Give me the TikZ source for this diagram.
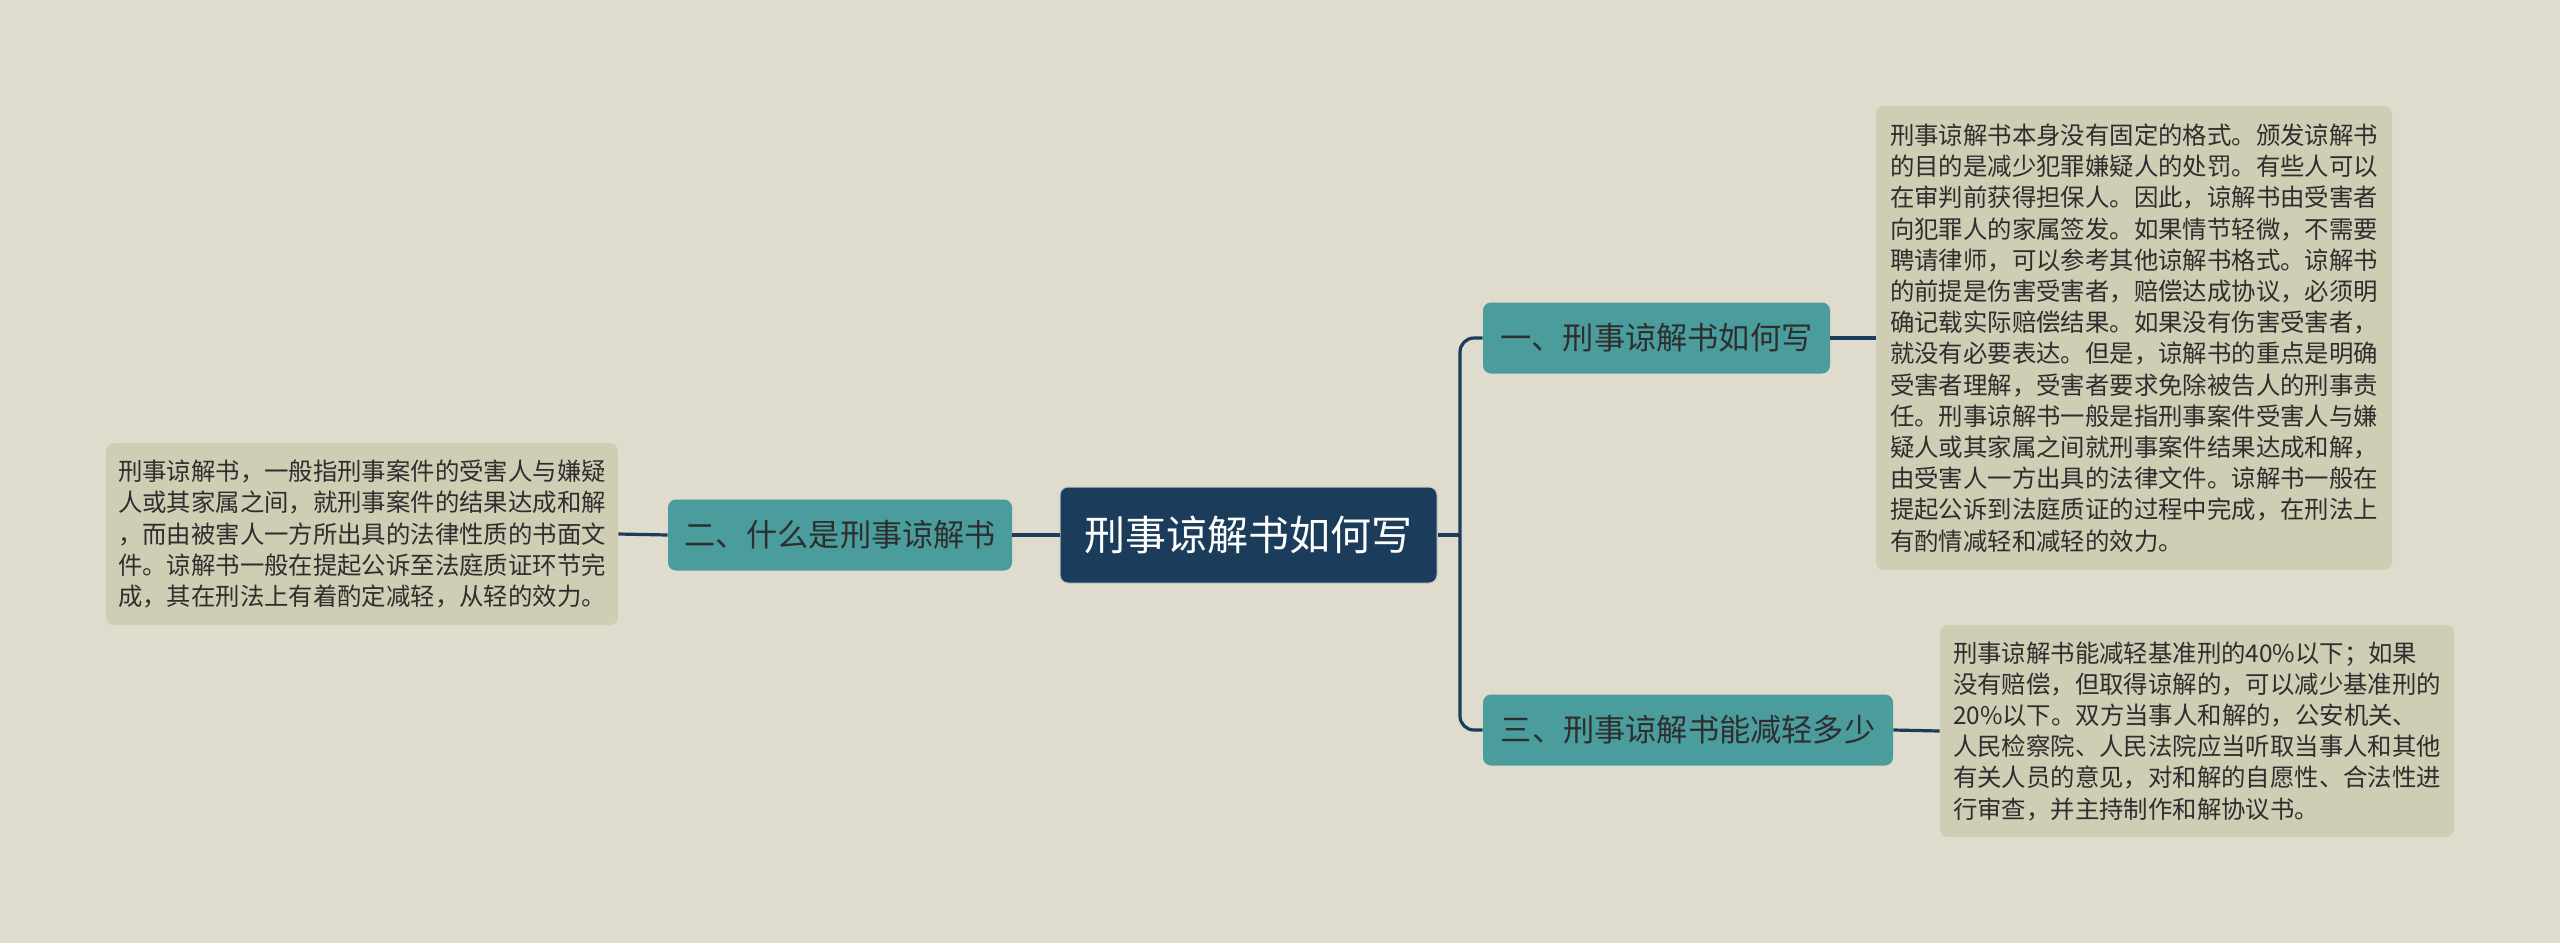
\documentclass[tikz,border=0pt]{standalone}
\usepackage{fontspec}
\setmainfont{Noto Sans CJK SC}
\definecolor{bgcol}{HTML}{DFDCCD}
\definecolor{leafcol}{HTML}{CFCDB4}
\definecolor{tealcol}{HTML}{4B9C9C}
\definecolor{navycol}{HTML}{1B3D5B}
\definecolor{txtcol}{HTML}{2E2E2E}

\begin{document}
\begin{tikzpicture}[x=0.5pt, y=-0.5pt,
    root/.style={fill=navycol, draw=white!70!navycol, line width=0.5pt, rounded corners=4pt,
        text=white, font=\fontsize{20.5}{24}\selectfont, inner sep=0pt,
        minimum width=188.5pt, minimum height=48pt},
    branch/.style={fill=tealcol, rounded corners=4pt, text=txtcol,
        font=\fontsize{15.6}{19}\selectfont, inner sep=0pt, minimum height=35.5pt},
    leaf/.style={fill=leafcol, rounded corners=4pt, text=txtcol, align=left,
        font=\fontsize{12.2}{15.6}\selectfont, inner sep=0pt},
    conn/.style={draw=navycol, line width=1.6pt, rounded corners=7pt}]

    % background and frame
    \fill[bgcol] (0,0) rectangle (2560,943);
    \useasboundingbox (0,0) rectangle (2560,943);

    % centre and branches
    \node[root] (root) at (1248.5,535) {刑事谅解书如何写};
    \node[branch, minimum width=172pt] (whatIs) at (840,535) {二、什么是刑事谅解书};
    \node[branch, minimum width=173.5pt] (howTo) at (1656.5,338) {一、刑事谅解书如何写};
    \node[branch, minimum width=205pt] (howMuch) at (1688,730) {三、刑事谅解书能减轻多少};

    % leaves
    \node[leaf, minimum width=256pt, minimum height=91pt] (whatIsLeaf) at (362,534)
        {刑事谅解书，一般指刑事案件的受害人与嫌疑\\
         人或其家属之间，就刑事案件的结果达成和解\\
         ，而由被害人一方所出具的法律性质的书面文\\
         件。谅解书一般在提起公诉至法庭质证环节完\\
         成，其在刑法上有着酌定减轻，从轻的效力。};
    \node[leaf, minimum width=258pt, minimum height=232pt] (howToLeaf) at (2134,338)
        {刑事谅解书本身没有固定的格式。颁发谅解书\\
         的目的是减少犯罪嫌疑人的处罚。有些人可以\\
         在审判前获得担保人。因此，谅解书由受害者\\
         向犯罪人的家属签发。如果情节轻微，不需要\\
         聘请律师，可以参考其他谅解书格式。谅解书\\
         的前提是伤害受害者，赔偿达成协议，必须明\\
         确记载实际赔偿结果。如果没有伤害受害者，\\
         就没有必要表达。但是，谅解书的重点是明确\\
         受害者理解，受害者要求免除被告人的刑事责\\
         任。刑事谅解书一般是指刑事案件受害人与嫌\\
         疑人或其家属之间就刑事案件结果达成和解，\\
         由受害人一方出具的法律文件。谅解书一般在\\
         提起公诉到法庭质证的过程中完成，在刑法上\\
         有酌情减轻和减轻的效力。};
    \node[leaf, minimum width=257pt, minimum height=106pt] (howMuchLeaf) at (2197,731)
        {刑事谅解书能减轻基准刑的40\%以下；如果\\
         没有赔偿，但取得谅解的，可以减少基准刑的\\
         20\%以下。双方当事人和解的，公安机关、\\
         人民检察院、人民法院应当听取当事人和其他\\
         有关人员的意见，对和解的自愿性、合法性进\\
         行审查，并主持制作和解协议书。};

    % connectors
    \coordinate (bus) at (1460,535);
    \draw[conn] (root.east) -- (bus);
    \draw[conn] (bus) |- (howTo.west);
    \draw[conn] (bus) |- (howMuch.west);
    \draw[conn] (root.west) -- (whatIs.east);
    \draw[conn] (whatIs.west) -- (whatIsLeaf.east);
    \draw[conn] (howTo.east) -- (howToLeaf.west);
    \draw[conn] (howMuch.east) -- (howMuchLeaf.west);
\end{tikzpicture}
\end{document}
